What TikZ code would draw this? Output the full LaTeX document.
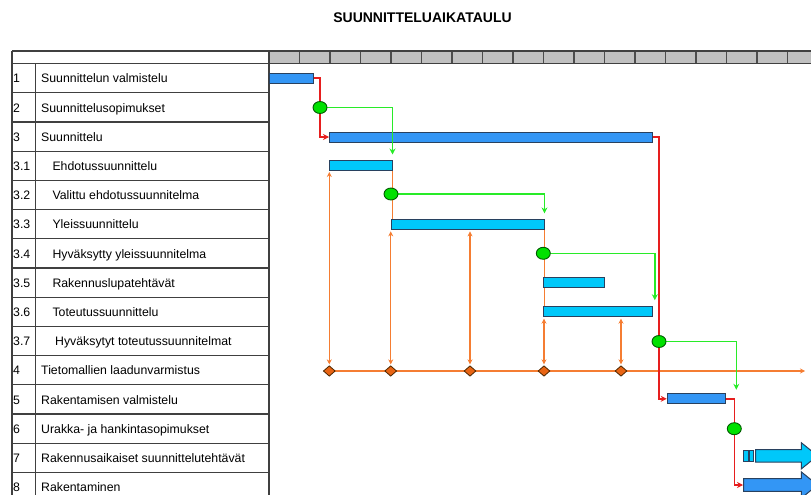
\documentclass[tikz,border=0pt]{standalone}
\usepackage{fontspec}
\setmainfont{Liberation Sans}
\usetikzlibrary{arrows.meta,shapes.geometric,shapes.arrows,calc}
\definecolor{barblue}{RGB}{51,150,245}
\definecolor{barcyan}{RGB}{0,200,250}
\definecolor{barline}{RGB}{40,65,95}
\definecolor{msgreen}{RGB}{0,225,0}
\definecolor{lngreen}{RGB}{40,235,40}
\definecolor{orln}{RGB}{245,125,50}
\definecolor{ordia}{RGB}{232,100,20}
\definecolor{redln}{RGB}{230,30,30}
\definecolor{hdrgray}{RGB}{192,192,192}
\pgfdeclarelayer{back}\pgfdeclarelayer{front}\pgfdeclarelayer{top}
\pgfsetlayers{back,main,front,top}
\begin{document}
\begin{tikzpicture}[x=1pt,y=-1pt,
 rowtxt/.style={anchor=base west, inner sep=0pt, font=\fontsize{12.3}{14}\selectfont},
 tline/.style={draw=black!75, line width=1.2pt},
 bar/.style={rectangle, draw=barline, line width=1pt, fill=barblue, inner sep=0pt, minimum height=10pt, anchor=west},
 subbar/.style={bar, fill=barcyan},
 milestone/.style={ellipse, draw=green!35!black, line width=0.9pt, fill=msgreen, minimum width=14pt, minimum height=12pt, inner sep=0pt},
 qa/.style={diamond, draw=black!70!orange, line width=0.8pt, fill=ordia, minimum width=12pt, minimum height=10.5pt, inner sep=0pt},
 redconn/.style={draw=redln, line width=1.4pt, -{Stealth[length=6pt,width=6pt]}},
 greenconn/.style={draw=lngreen, line width=1.6pt, -{Stealth[length=6pt,width=6pt]}},
 oline/.style={draw=orln, line width=1.4pt},
 odbl/.style={oline, {Stealth[length=5pt,width=5pt]}-{Stealth[length=5pt,width=5pt]}},
 blockarrow/.style={single arrow, draw=barline, line width=1pt, inner xsep=0pt, inner ysep=5.8pt, single arrow head extend=6.7pt, single arrow tip angle=78, anchor=tail},
 stub/.style={rectangle, draw=barline, line width=0.9pt, fill=barcyan, inner sep=0pt, minimum height=11.5pt, anchor=west}
]
\useasboundingbox (0,0) rectangle (811,495);
\clip (0,0) rectangle (811,495);

% title
\node[font=\fontsize{14}{16}\selectfont\bfseries] (title) at (422.5,18) {SUUNNITTELUAIKATAULU};

% header
\fill[hdrgray] (269,51) rectangle (815,63.5);
\foreach \k in {1,...,18} \draw[draw=black!70, line width=1.1pt] (269+30.5*\k,51) -- (269+30.5*\k,63.5);
\draw[tline] (12,51) -- (815,51);
\draw[tline] (12,63.5) -- (815,63.5);

% table
\draw[tline] (12,51) -- (12,500);
\draw[tline] (269,51) -- (269,500);
\draw[tline] (35.5,63.5) -- (35.5,500);
\foreach \k in {1,...,14} \draw[tline] (12,63.5+29.2*\k) -- (269,63.5+29.2*\k);

\foreach \num/\txt/\xx [count=\k from 0] in {1/Suunnittelun valmistelu/41, 2/Suunnittelusopimukset/41, 3/Suunnittelu/41, 3.1/Ehdotussuunnittelu/52.3, 3.2/Valittu ehdotussuunnitelma/52.3, 3.3/Yleissuunnittelu/52.3, 3.4/Hyväksytty yleissuunnitelma/52.3, 3.5/Rakennuslupatehtävät/52.3, 3.6/Toteutussuunnittelu/52.3, 3.7/Hyväksytyt toteutussuunnitelmat/55, 4/Tietomallien laadunvarmistus/41, 5/Rakentamisen valmistelu/41, 6/Urakka- ja hankintasopimukset/41, 7/Rakennusaikaiset suunnittelutehtävät/41, 8/Rakentaminen/41}
{
  \pgfmathsetmacro{\yy}{82.9+29.2*\k}
  \node[rowtxt] (num\k) at (13,\yy) {\num};
  \node[rowtxt] (lab\k) at (\xx,\yy) {\txt};
}

% bars
\node[bar, minimum width=43.4pt] (b1) at (269.3,78.1) {};
\node[bar, minimum width=322.7pt] (b3) at (329,137) {};
\node[subbar, minimum width=62.2pt] (b31) at (329.3,165) {};
\node[subbar, minimum width=152.5pt] (b33) at (391,224.4) {};
\node[subbar, minimum width=61pt] (b35) at (543.3,282.3) {};
\node[subbar, minimum width=109pt] (b36) at (543.3,311.7) {};
\node[bar, minimum width=58.6pt] (b5) at (666.7,398.8) {};

% row 7 and 8 block arrows
\node[stub, minimum width=5pt] (s7a) at (742.7,455.8) {};
\node[stub, minimum width=4pt] (s7b) at (748.7,455.8) {};
\node[blockarrow, fill=barcyan, minimum height=62pt] (a7) at (755,455.8) {};
\node[blockarrow, fill=barblue, minimum height=74pt] (a8) at (743,485) {};

% QA diamonds
\node[qa] (d1) at (329.3,371) {};
\node[qa] (d2) at (390.7,371) {};
\node[qa] (d3) at (470,371) {};
\node[qa] (d4) at (544,371) {};
\node[qa] (d5) at (621,371) {};
\coordinate (oend) at (805,371);

% milestones
\begin{pgfonlayer}{top}
\node[milestone] (m2) at (320,107.5) {};
\node[milestone] (m32) at (391,194) {};
\node[milestone] (m34) at (543.3,253.3) {};
\node[milestone] (m37) at (659,341.5) {};
\node[milestone] (m6) at (734.3,428.7) {};
\end{pgfonlayer}

% orange lines
\begin{pgfonlayer}{back}
\draw[oline, -{Stealth[length=5pt,width=5pt]}] (d1.center) -- (oend);
\draw[odbl, shorten <=1pt, shorten >=1.5pt] (d1.north) -- (d1.north |- b31.south);
\draw[odbl, shorten <=1pt, shorten >=1.5pt] (d2.north) -- (d2.north |- b33.south);
\draw[odbl, shorten <=1pt, shorten >=1.5pt] (d3.north) -- (d3.north |- b33.south);
\draw[odbl, shorten <=1pt, shorten >=1.5pt] (d4.north) -- (d4.north |- b36.south);
\draw[odbl, shorten <=1pt, shorten >=1.5pt] (d5.north) -- (d5.north |- b36.south);
\draw[oline] (b31.south east) -- (b31.south east |- b33.north);
\draw[oline] (b33.south east) -- (b33.south east |- b36.north);
\end{pgfonlayer}

% red and green connectors
\begin{pgfonlayer}{front}
\draw[redconn] (b1.east) -| (m2.center) |- (b3.west);
\draw[redconn] (b3.east) -| (m37.center) |- (b5.west);
\draw[redconn] (b5.east) -| (m6.center) |- (a8.tail);
\draw[greenconn, shorten >=5pt] (m2.east) -| (b31.north east);
\draw[greenconn, shorten >=5.5pt] (m32.east) -| (b33.north east);
\draw[greenconn, shorten >=6pt] (m34.east) -| ([xshift=1.5pt]b36.north east);
\draw[greenconn, shorten >=3.5pt] (m37.east) -| ([xshift=10pt]b5.north east);
\end{pgfonlayer}
\end{tikzpicture}
\end{document}
